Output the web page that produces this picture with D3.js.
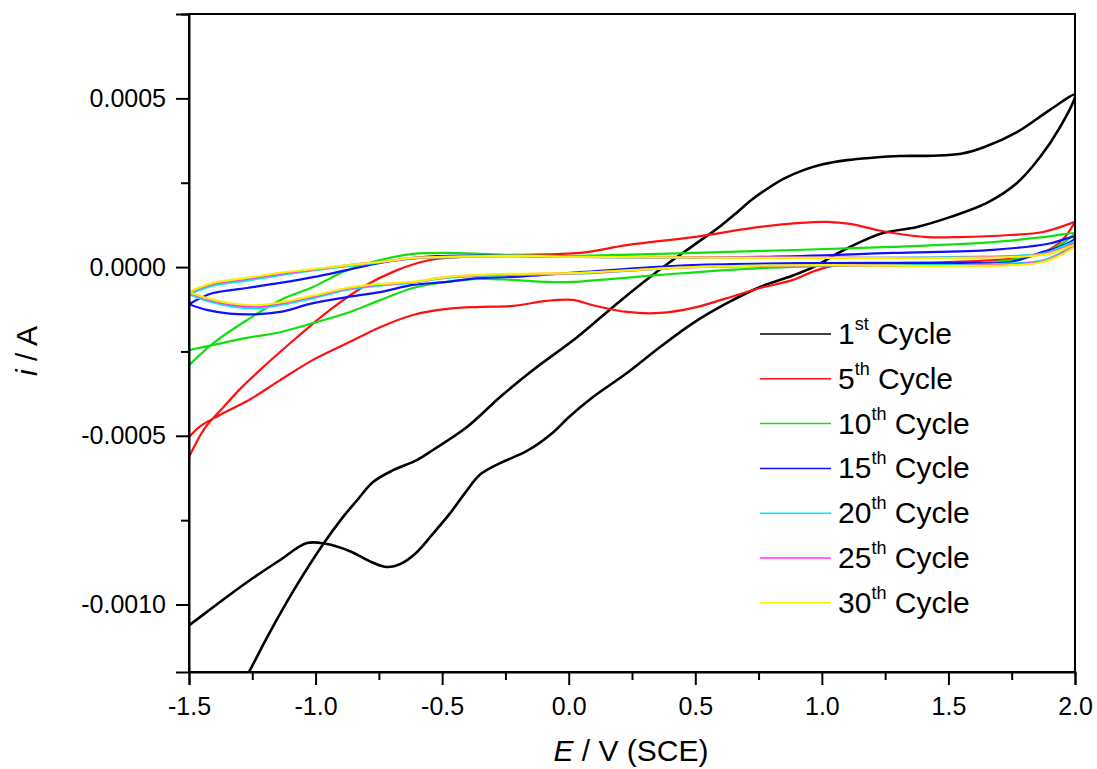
<!DOCTYPE html>
<html>
<head>
<meta charset="utf-8">
<script src="https://cdn.jsdelivr.net/npm/d3@7"></script>
<style>
  body { margin: 0; background: #fff; }
  text { font-family: "Liberation Sans", Arial, sans-serif; fill: #000; }
</style>
</head>
<body>
<div id="chart"></div>
<script>
// current values are in units of 1e-4 A, potential in V vs SCE
var cycle1Fwd = [[-1.5,-15.2],[-1.263,-12.0],[-1.19,-10.95],[-1.08,-9.5],[-0.971,-8.22],[-0.892,-7.41],[-0.836,-6.91],[-0.773,-6.37],[-0.694,-6.02],[-0.60,-5.72],[-0.536,-5.42],[-0.402,-4.74],[-0.271,-3.85],[-0.141,-3.05],[0.033,-2.08],[0.175,-1.18],[0.30,-0.42],[0.40,0.15],[0.50,0.68],[0.60,1.22],[0.665,1.62],[0.72,1.98],[0.78,2.3],[0.85,2.62],[0.93,2.88],[1.0,3.04],[1.1,3.17],[1.2,3.24],[1.309,3.29],[1.44,3.3],[1.55,3.36],[1.64,3.55],[1.771,4.0],[1.901,4.66],[2.0,5.12]];
var cycle1Rev = [[2.0,5.04],[1.941,4.15],[1.862,3.26],[1.771,2.49],[1.652,1.9],[1.506,1.48],[1.376,1.19],[1.242,1.01],[1.151,0.74],[1.06,0.4],[0.981,0.05],[0.886,-0.25],[0.756,-0.59],[0.625,-1.07],[0.491,-1.66],[0.361,-2.37],[0.23,-3.14],[0.096,-3.85],[0.0,-4.45],[-0.062,-4.9],[-0.165,-5.45],[-0.271,-5.81],[-0.35,-6.15],[-0.41,-6.7],[-0.469,-7.3],[-0.536,-7.9],[-0.6,-8.45],[-0.66,-8.78],[-0.718,-8.89],[-0.78,-8.74],[-0.864,-8.42],[-0.96,-8.2],[-1.034,-8.18],[-1.14,-8.68],[-1.271,-9.34],[-1.405,-10.08],[-1.5,-10.62]];

var cycle5Fwd = [[-1.5,-5.63],[-1.44,-4.8],[-1.37,-4.2],[-1.29,-3.55],[-1.208,-2.97],[-1.073,-2.08],[-0.943,-1.27],[-0.813,-0.59],[-0.678,-0.09],[-0.548,0.21],[-0.418,0.3],[-0.22,0.36],[0.045,0.42],[0.23,0.65],[0.491,0.89],[0.756,1.19],[0.9,1.3],[1.02,1.34],[1.111,1.28],[1.218,1.1],[1.281,1.01],[1.415,0.89],[1.546,0.89],[1.743,0.95],[1.874,1.04],[2.0,1.34]];
var cycle5Rev = [[2.0,1.34],[1.95,0.8],[1.88,0.45],[1.75,0.25],[1.5,0.15],[1.25,0.12],[1.1,0.1],[1.02,0.0],[0.96,-0.15],[0.886,-0.38],[0.756,-0.62],[0.625,-0.92],[0.491,-1.21],[0.361,-1.36],[0.23,-1.33],[0.096,-1.13],[0.014,-0.97],[-0.086,-1.0],[-0.22,-1.15],[-0.35,-1.18],[-0.481,-1.24],[-0.615,-1.42],[-0.745,-1.78],[-0.876,-2.26],[-1.01,-2.75],[-1.14,-3.35],[-1.263,-3.94],[-1.38,-4.39],[-1.46,-4.74],[-1.5,-5.04]];

var cycle10Fwd = [[-1.5,-2.91],[-1.405,-2.26],[-1.271,-1.57],[-1.14,-0.98],[-1.01,-0.59],[-0.876,-0.09],[-0.745,0.21],[-0.615,0.39],[-0.481,0.42],[-0.35,0.39],[-0.086,0.33],[0.045,0.33],[0.625,0.45],[1.281,0.6],[1.676,0.74],[1.874,0.89],[2.0,1.01]];
var cycle10Rev = [[2.0,1.0],[1.95,0.7],[1.874,0.42],[1.743,0.21],[1.546,0.09],[1.151,0.06],[0.756,-0.03],[0.361,-0.23],[0.014,-0.44],[-0.086,-0.44],[-0.22,-0.38],[-0.35,-0.35],[-0.481,-0.44],[-0.615,-0.62],[-0.745,-0.98],[-0.876,-1.36],[-1.01,-1.66],[-1.14,-1.93],[-1.271,-2.1],[-1.405,-2.31],[-1.5,-2.46]];

var cycle15Fwd = [[-1.5,-1.1],[-1.45,-0.9],[-1.405,-0.77],[-1.271,-0.62],[-1.14,-0.47],[-1.01,-0.3],[-0.876,-0.09],[-0.745,0.12],[-0.615,0.27],[-0.481,0.33],[-0.22,0.33],[0.045,0.3],[0.756,0.3],[1.281,0.42],[1.676,0.51],[1.9,0.7],[2.0,0.9]];
var cycle15Rev = [[2.0,0.85],[1.941,0.6],[1.874,0.45],[1.743,0.15],[1.546,0.12],[1.02,0.12],[0.491,0.06],[0.045,-0.15],[-0.22,-0.29],[-0.35,-0.32],[-0.481,-0.44],[-0.615,-0.53],[-0.745,-0.74],[-0.876,-0.89],[-1.01,-1.07],[-1.14,-1.33],[-1.24,-1.4],[-1.34,-1.38],[-1.43,-1.27],[-1.5,-1.1]];

var cycle20Fwd = [[-1.5,-0.8],[-1.405,-0.55],[-1.271,-0.4],[-1.14,-0.24],[-1.01,-0.1],[-0.876,0.03],[-0.745,0.14],[-0.615,0.25],[-0.481,0.29],[-0.22,0.32],[0.045,0.3],[1.02,0.27],[1.546,0.3],[1.874,0.4],[1.95,0.6],[2.0,0.75]];
var cycle20Rev = [[2.0,0.7],[1.95,0.45],[1.874,0.2],[1.546,0.06],[1.02,0.06],[0.491,0.0],[0.045,-0.19],[-0.22,-0.23],[-0.481,-0.32],[-0.615,-0.46],[-0.745,-0.55],[-0.876,-0.67],[-1.01,-0.92],[-1.14,-1.12],[-1.23,-1.22],[-1.33,-1.17],[-1.43,-1.0],[-1.5,-0.8]];

var cycle25Fwd = [[-1.5,-0.76],[-1.405,-0.5],[-1.271,-0.35],[-1.14,-0.2],[-1.01,-0.08],[-0.876,0.05],[-0.745,0.15],[-0.615,0.26],[-0.481,0.3],[-0.22,0.33],[0.045,0.31],[1.02,0.28],[1.546,0.28],[1.874,0.38],[1.95,0.55],[2.0,0.7]];
var cycle25Rev = [[2.0,0.65],[1.95,0.42],[1.874,0.17],[1.546,0.04],[1.02,0.05],[0.491,0.0],[0.045,-0.18],[-0.22,-0.21],[-0.481,-0.3],[-0.615,-0.45],[-0.745,-0.52],[-0.876,-0.64],[-1.01,-0.88],[-1.14,-1.08],[-1.23,-1.17],[-1.33,-1.12],[-1.43,-0.95],[-1.5,-0.76]];

var cycle30Fwd = [[-1.5,-0.74],[-1.405,-0.47],[-1.271,-0.32],[-1.14,-0.17],[-1.01,-0.06],[-0.876,0.06],[-0.745,0.15],[-0.615,0.27],[-0.481,0.3],[-0.22,0.33],[0.045,0.3],[1.02,0.27],[1.546,0.27],[1.874,0.36],[1.941,0.5],[2.0,0.65]];
var cycle30Rev = [[2.0,0.6],[1.98,0.51],[1.874,0.15],[1.546,0.03],[1.02,0.06],[0.491,0.0],[0.045,-0.17],[-0.22,-0.2],[-0.35,-0.23],[-0.481,-0.29],[-0.615,-0.44],[-0.745,-0.5],[-0.876,-0.62],[-1.01,-0.85],[-1.14,-1.05],[-1.23,-1.13],[-1.33,-1.08],[-1.43,-0.92],[-1.5,-0.74]];

var cycleNames = ["1", "5", "10", "15", "20", "25", "30"];
var cycleSuffix = ["st", "th", "th", "th", "th", "th", "th"];
var cycleColors = ["#000000", "#ff1010", "#10e010", "#1010ff", "#00f0f0", "#ff30ff", "#f8f000"];
var cycleData = [
  cycle1Fwd.concat(cycle1Rev),
  cycle5Fwd.concat(cycle5Rev),
  cycle10Fwd.concat(cycle10Rev),
  cycle15Fwd.concat(cycle15Rev),
  cycle20Fwd.concat(cycle20Rev),
  cycle25Fwd.concat(cycle25Rev),
  cycle30Fwd.concat(cycle30Rev)
];

var xMajor = [-1.5, -1.0, -0.5, 0.0, 0.5, 1.0, 1.5, 2.0];
var xMinor = [-1.25, -0.75, -0.25, 0.25, 0.75, 1.25, 1.75];
var yMajor = [-10, -5, 0, 5];
var yMinor = [-7.5, -2.5, 2.5, 7.5];

(function() {
  var w = 1097,
      h = 769;
  var left = 189, right = 1075, top = 14, bottom = 672;

  var svg = d3.select("#chart")
    .append("svg")
    .attr("width", w)
    .attr("height", h);

  var x = d3.scaleLinear().domain([-1.5, 2.0]).range([left, right]);
  var y = d3.scaleLinear().domain([-12, 7.5]).range([bottom, top]);

  svg.append("clipPath").attr("id", "plotclip")
    .append("rect")
    .attr("x", left).attr("y", top)
    .attr("width", right - left).attr("height", bottom - top);

  var line = d3.line()
    .x(function(d) { return x(d[0]); })
    .y(function(d) { return y(d[1]); })
    .curve(d3.curveCatmullRom.alpha(0.5));

  svg.append("g")
    .attr("clip-path", "url(#plotclip)")
    .selectAll("path")
    .data(cycleData)
    .enter().append("path")
    .attr("d", line)
    .attr("fill", "none")
    .attr("stroke", function(d, i) { return cycleColors[i]; })
    .attr("stroke-width", function(d, i) { return i == 0 ? 2.6 : 2.2; })
    .attr("stroke-linejoin", "round");

  // frame
  svg.append("rect")
    .attr("x", left).attr("y", top)
    .attr("width", right - left).attr("height", bottom - top)
    .attr("fill", "none")
    .attr("stroke", "#000")
    .attr("stroke-width", 2);

  // axes
  svg.append("g")
    .attr("transform", "translate(0," + bottom + ")")
    .call(d3.axisBottom(x).tickValues(xMajor).tickSize(13).tickPadding(12)
      .tickFormat(function(d) { return d.toFixed(1); }));
  svg.append("g")
    .attr("transform", "translate(0," + bottom + ")")
    .call(d3.axisBottom(x).tickValues(xMinor).tickSize(8).tickFormat(""))
    .select(".domain").remove();

  svg.append("g")
    .attr("transform", "translate(" + left + ",0)")
    .call(d3.axisLeft(y).tickValues(yMajor).tickSize(13).tickPadding(10)
      .tickFormat(function(d) { return (d / 10000).toFixed(4); }));
  svg.append("g")
    .attr("transform", "translate(" + left + ",0)")
    .call(d3.axisLeft(y).tickValues(yMinor).tickSize(8).tickFormat(""))
    .select(".domain").remove();

  svg.selectAll(".domain").attr("stroke-width", 2);
  svg.selectAll(".tick line").attr("stroke-width", 2);
  svg.selectAll(".tick text")
    .attr("font-size", 25)
    .attr("font-family", "'Liberation Sans', Arial, sans-serif");

  // axis titles
  var xt = svg.append("text")
    .attr("x", 631).attr("y", 761)
    .attr("text-anchor", "middle")
    .attr("font-size", 30);
  xt.append("tspan").attr("font-style", "italic").text("E");
  xt.append("tspan").text(" / V (SCE)");

  var yt = svg.append("text")
    .attr("transform", "translate(37,351) rotate(-90)")
    .attr("text-anchor", "middle")
    .attr("font-size", 30);
  yt.append("tspan").attr("font-style", "italic").text("i");
  yt.append("tspan").text(" / A");

  // legend
  var legend = svg.append("g").selectAll("g")
    .data(cycleNames)
    .enter().append("g")
    .attr("transform", function(d, i) { return "translate(0," + (334 + i * 44.8) + ")"; });

  legend.append("line")
    .attr("x1", 760).attr("x2", 831)
    .attr("y1", 0).attr("y2", 0)
    .attr("stroke", function(d, i) { return cycleColors[i]; })
    .attr("stroke-width", 1.5);

  var lt = legend.append("text")
    .attr("x", 838).attr("y", 10)
    .attr("font-size", 30);
  lt.append("tspan").text(function(d) { return d; });
  lt.append("tspan").attr("dy", -14).attr("font-size", 18)
    .text(function(d, i) { return cycleSuffix[i]; });
  lt.append("tspan").attr("dy", 14).text(" Cycle");
})();
</script>
</body>
</html>
